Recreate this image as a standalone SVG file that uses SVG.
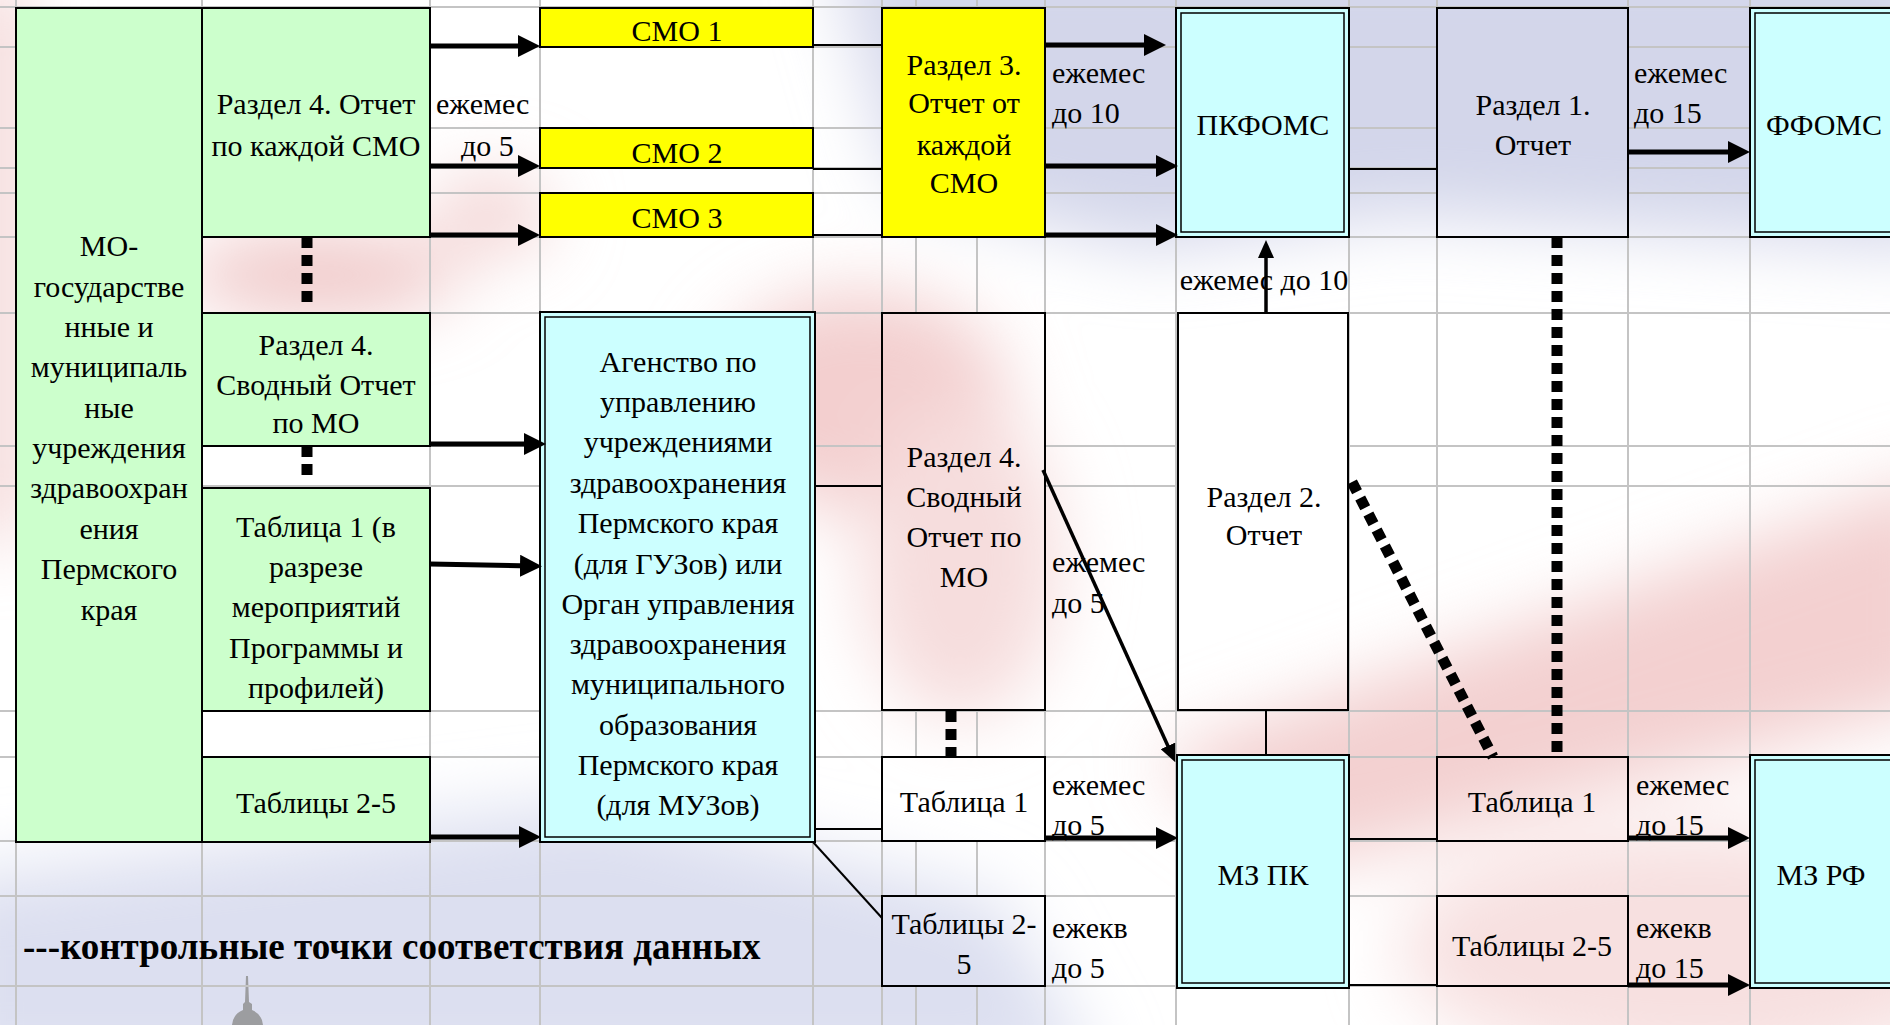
<svg xmlns="http://www.w3.org/2000/svg" width="1890" height="1025" viewBox="0 0 1890 1025">
<defs>
<style>
.t{font-family:"Liberation Serif","Times New Roman",serif;font-size:30px;fill:#000}
.c{text-anchor:middle}
.b{font-weight:bold;font-size:37px}
.box{stroke:#000;stroke-width:2}
.green{fill:#ccffcc}.yel{fill:#ffff00}.cyan{fill:#ccffff}.clear{fill:none}
.inner{fill:none;stroke:#000;stroke-width:1.5}
.arr{stroke:#000;stroke-width:5;fill:none;marker-end:url(#ah)}
.arr2{stroke:#000;stroke-width:3.5;fill:none;marker-end:url(#ah2)}
.thin{stroke:#000;stroke-width:2;fill:none}
.dot{stroke:#000;stroke-width:11;stroke-dasharray:11 7;fill:none}
.grid line{stroke:#c4c4c4;stroke-width:2}
</style>
<marker id="ah" markerUnits="userSpaceOnUse" viewBox="0 0 22 22" markerWidth="22" markerHeight="22" refX="12" refY="11" orient="auto"><path d="M0,0 L22,11 L0,22 z" fill="#000"/></marker>
<marker id="ah2" markerUnits="userSpaceOnUse" viewBox="0 0 18 16" markerWidth="18" markerHeight="16" refX="10" refY="8" orient="auto"><path d="M0,0 L18,8 L0,16 z" fill="#000"/></marker>
<filter id="blur" x="-50%" y="-50%" width="200%" height="200%"><feGaussianBlur stdDeviation="35"/></filter>
<linearGradient id="lav" x1="0" y1="0" x2="0" y2="1"><stop offset="0" stop-color="#d3d6ea"/><stop offset="0.6" stop-color="#dcdeef"/><stop offset="1" stop-color="#ffffff" stop-opacity="0"/></linearGradient>
<mask id="gm">
<rect x="0" y="0" width="1890" height="1025" fill="#fff"/>
<g fill="#000">
<rect x="16" y="8" width="186" height="834"/>
<rect x="202" y="8" width="228" height="229"/>
<rect x="202" y="313" width="228" height="133"/>
<rect x="202" y="488" width="228" height="223"/>
<rect x="202" y="757" width="228" height="85"/>
<rect x="540" y="8" width="273" height="39"/>
<rect x="540" y="128" width="273" height="40"/>
<rect x="540" y="193" width="273" height="44"/>
<rect x="882" y="8" width="163" height="229"/>
<rect x="540" y="312" width="275" height="530"/>
<rect x="882" y="313" width="163" height="397"/>
<rect x="882" y="757" width="163" height="84"/>
<rect x="882" y="896" width="163" height="90"/>
<rect x="1176" y="8" width="173" height="229"/>
<rect x="1178" y="313" width="170" height="397"/>
<rect x="1177" y="755" width="172" height="233"/>
<rect x="1437" y="8" width="191" height="229"/>
<rect x="1437" y="757" width="191" height="84"/>
<rect x="1437" y="896" width="191" height="90"/>
<rect x="1750" y="8" width="160" height="229"/>
<rect x="1750" y="755" width="160" height="233"/>
</g>
</mask>
</defs>

<rect x="0" y="0" width="1890" height="1025" fill="#fff"/>
<g id="background" filter="url(#blur)">
<rect x="-30" y="-20" width="46" height="560" fill="#efc6c6"/>
<polygon points="830,-60 1950,-60 1950,250 1400,215 1150,250 900,190" fill="#d3d6ea"/>
<ellipse cx="320" cy="275" rx="140" ry="38" fill="#eec3c3"/>
<ellipse cx="490" cy="215" rx="60" ry="40" fill="#f3d3d3"/>
<ellipse cx="860" cy="400" rx="150" ry="110" fill="#f3cfcf"/>
<ellipse cx="960" cy="560" rx="100" ry="160" fill="#f6dddd"/>
<polygon points="1150,760 1950,470 1950,700 1300,870" fill="#f3d0d0"/>
<ellipse cx="1700" cy="950" rx="300" ry="120" fill="#f7e0e0"/>
<polygon points="-60,880 600,800 1000,900 1100,1080 -60,1080" fill="#dcdff0"/>
</g>
<path d="M246,976 L248,976 L249,1002 L252,1004 L252,1010 Q262,1014 263,1025 L232,1025 Q233,1014 243,1010 L243,1004 L245,1002 z" fill="#8c8c8c" opacity="0.8"/>

<g id="grid" class="grid" mask="url(#gm)">
<line x1="0" y1="7" x2="1890" y2="7"/>
<line x1="0" y1="47" x2="1890" y2="47"/>
<line x1="0" y1="128" x2="1890" y2="128"/>
<line x1="0" y1="168" x2="1890" y2="168"/>
<line x1="0" y1="193" x2="1890" y2="193"/>
<line x1="0" y1="237" x2="1890" y2="237"/>
<line x1="0" y1="313" x2="1890" y2="313"/>
<line x1="0" y1="446" x2="1890" y2="446"/>
<line x1="0" y1="486" x2="1890" y2="486"/>
<line x1="0" y1="711" x2="1890" y2="711"/>
<line x1="0" y1="757" x2="1890" y2="757"/>
<line x1="0" y1="841" x2="1890" y2="841"/>
<line x1="0" y1="896" x2="1890" y2="896"/>
<line x1="0" y1="986" x2="1890" y2="986"/>
<line x1="16" y1="0" x2="16" y2="1025"/>
<line x1="202" y1="0" x2="202" y2="1025"/>
<line x1="430" y1="0" x2="430" y2="1025"/>
<line x1="540" y1="0" x2="540" y2="1025"/>
<line x1="813" y1="0" x2="813" y2="1025"/>
<line x1="882" y1="0" x2="882" y2="1025"/>
<line x1="916" y1="0" x2="916" y2="1025"/>
<line x1="977" y1="0" x2="977" y2="1025"/>
<line x1="1045" y1="0" x2="1045" y2="1025"/>
<line x1="1176" y1="0" x2="1176" y2="1025"/>
<line x1="1349" y1="0" x2="1349" y2="1025"/>
<line x1="1437" y1="0" x2="1437" y2="1025"/>
<line x1="1628" y1="0" x2="1628" y2="1025"/>
<line x1="1750" y1="0" x2="1750" y2="1025"/>
</g>

<g id="n-mo"><rect class="box green" x="16" y="8" width="186" height="834"/>
<text class="t c" x="109"><tspan x="109" y="256">МО-</tspan><tspan x="109" y="297">государстве</tspan><tspan x="109" y="337">нные и</tspan><tspan x="109" y="377">муниципаль</tspan><tspan x="109" y="418">ные</tspan><tspan x="109" y="458">учреждения</tspan><tspan x="109" y="498">здравоохран</tspan><tspan x="109" y="539">ения</tspan><tspan x="109" y="579">Пермского</tspan><tspan x="109" y="620">края</tspan></text></g>

<g id="n-r4smo"><rect class="box green" x="202" y="8" width="228" height="229"/>
<text class="t c"><tspan x="316" y="114">Раздел 4. Отчет</tspan><tspan x="316" y="156">по каждой СМО</tspan></text></g>

<g id="n-r4mo"><rect class="box green" x="202" y="313" width="228" height="133"/>
<text class="t c"><tspan x="316" y="355">Раздел 4.</tspan><tspan x="316" y="395">Сводный Отчет</tspan><tspan x="316" y="433">по МО</tspan></text></g>

<g id="n-t1"><rect class="box green" x="202" y="488" width="228" height="223"/>
<text class="t c"><tspan x="316" y="537">Таблица 1 (в</tspan><tspan x="316" y="577">разрезе</tspan><tspan x="316" y="617">мероприятий</tspan><tspan x="316" y="658">Программы и</tspan><tspan x="316" y="698">профилей)</tspan></text></g>

<g id="n-t25"><rect class="box green" x="202" y="757" width="228" height="85"/>
<text class="t c" x="316" y="813">Таблицы 2-5</text></g>

<g id="n-smo1"><rect class="box yel" x="540" y="8" width="273" height="39"/><text class="t c" x="677" y="41">СМО 1</text></g>
<g id="n-smo2"><rect class="box yel" x="540" y="128" width="273" height="40"/><text class="t c" x="677" y="163">СМО 2</text></g>
<g id="n-smo3"><rect class="box yel" x="540" y="193" width="273" height="44"/><text class="t c" x="677" y="228">СМО 3</text></g>

<g id="n-r3"><rect class="box yel" x="882" y="8" width="163" height="229"/>
<text class="t c"><tspan x="964" y="75">Раздел 3.</tspan><tspan x="964" y="113">Отчет от</tspan><tspan x="964" y="155">каждой</tspan><tspan x="964" y="193">СМО</tspan></text></g>

<g id="n-agency"><rect class="box cyan" x="540" y="312" width="275" height="530"/><rect class="inner" x="545" y="317" width="265" height="520"/>
<text class="t c"><tspan x="678" y="372">Агенство по</tspan><tspan x="678" y="412">управлению</tspan><tspan x="678" y="452">учреждениями</tspan><tspan x="678" y="493">здравоохранения</tspan><tspan x="678" y="533">Пермского края</tspan><tspan x="678" y="574">(для ГУЗов) или</tspan><tspan x="678" y="614">Орган управления</tspan><tspan x="678" y="654">здравоохранения</tspan><tspan x="678" y="694">муниципального</tspan><tspan x="678" y="735">образования</tspan><tspan x="678" y="775">Пермского края</tspan><tspan x="678" y="815">(для МУЗов)</tspan></text></g>

<g id="n-r4mo2"><rect class="box clear" x="882" y="313" width="163" height="397"/>
<text class="t c"><tspan x="964" y="467">Раздел 4.</tspan><tspan x="964" y="507">Сводный</tspan><tspan x="964" y="547">Отчет по</tspan><tspan x="964" y="587">МО</tspan></text></g>

<g id="n-t1b"><rect class="box clear" x="882" y="757" width="163" height="84"/><text class="t c" x="964" y="812">Таблица 1</text></g>
<g id="n-t25b"><rect class="box clear" x="882" y="896" width="163" height="90"/>
<text class="t c"><tspan x="964" y="934">Таблицы 2-</tspan><tspan x="964" y="974">5</tspan></text></g>

<g id="n-pkfoms"><rect class="box cyan" x="1176" y="8" width="173" height="229"/><rect class="inner" x="1181" y="13" width="163" height="219"/><text class="t c" x="1263" y="135">ПКФОМС</text></g>

<g id="n-r2"><rect class="box clear" x="1178" y="313" width="170" height="397"/>
<text class="t c"><tspan x="1264" y="507">Раздел 2.</tspan><tspan x="1264" y="545">Отчет</tspan></text></g>

<g id="n-mzpk"><rect class="box cyan" x="1177" y="755" width="172" height="233"/><rect class="inner" x="1182" y="760" width="162" height="223"/><text class="t c" x="1263" y="885">МЗ ПК</text></g>

<g id="n-r1"><rect class="box clear" x="1437" y="8" width="191" height="229"/>
<text class="t c"><tspan x="1533" y="115">Раздел 1.</tspan><tspan x="1533" y="155">Отчет</tspan></text></g>

<g id="n-t1c"><rect class="box clear" x="1437" y="757" width="191" height="84"/><text class="t c" x="1532" y="812">Таблица 1</text></g>
<g id="n-t25c"><rect class="box clear" x="1437" y="896" width="191" height="90"/><text class="t c" x="1532" y="956">Таблицы 2-5</text></g>

<g id="n-ffoms"><rect class="box cyan" x="1750" y="8" width="160" height="229"/><rect class="inner" x="1755" y="13" width="150" height="219"/><text class="t c" x="1824" y="135">ФФОМС</text></g>
<g id="n-mzrf"><rect class="box cyan" x="1750" y="755" width="160" height="233"/><rect class="inner" x="1755" y="760" width="150" height="223"/><text class="t c" x="1821" y="885">МЗ РФ</text></g>

<g id="labels">
<text class="t"><tspan x="436" y="114">ежемес</tspan><tspan x="461" y="156">до 5</tspan></text>
<text class="t"><tspan x="1052" y="83">ежемес</tspan><tspan x="1052" y="123">до 10</tspan></text>
<text class="t"><tspan x="1634" y="83">ежемес</tspan><tspan x="1634" y="123">до 15</tspan></text>
<text class="t c" x="1264" y="290">ежемес до 10</text>
<text class="t"><tspan x="1052" y="572">ежемес</tspan><tspan x="1052" y="613">до 5</tspan></text>
<text class="t"><tspan x="1052" y="795">ежемес</tspan><tspan x="1052" y="835">до 5</tspan></text>
<text class="t"><tspan x="1052" y="938">ежекв</tspan><tspan x="1052" y="978">до 5</tspan></text>
<text class="t"><tspan x="1636" y="795">ежемес</tspan><tspan x="1636" y="835">до 15</tspan></text>
<text class="t"><tspan x="1636" y="938">ежекв</tspan><tspan x="1636" y="978">до 15</tspan></text>
<text class="t b" x="23" y="959">---контрольные точки соответствия данных</text>
</g>

<g id="connectors">
<line class="arr" x1="430" y1="46" x2="530" y2="46"/>
<line class="arr" x1="430" y1="166" x2="530" y2="166"/>
<line class="arr" x1="430" y1="235" x2="530" y2="235"/>
<line class="thin" x1="813" y1="45" x2="882" y2="45"/>
<line class="thin" x1="813" y1="169" x2="882" y2="169"/>
<line class="thin" x1="813" y1="235" x2="882" y2="235"/>
<line class="arr" x1="1045" y1="45" x2="1156" y2="45"/>
<line class="arr" x1="1045" y1="166" x2="1168" y2="166"/>
<line class="arr" x1="1045" y1="235" x2="1168" y2="235"/>
<line class="thin" x1="1349" y1="169" x2="1437" y2="169"/>
<line class="arr" x1="1628" y1="152" x2="1740" y2="152"/>
<line class="arr" x1="430" y1="444" x2="536" y2="444"/>
<line class="arr" x1="430" y1="564" x2="532" y2="566"/>
<line class="arr" x1="430" y1="837" x2="531" y2="837"/>
<line class="thin" x1="815" y1="486" x2="882" y2="486"/>
<line class="thin" x1="815" y1="829" x2="882" y2="829"/>
<line class="thin" x1="813" y1="842" x2="882" y2="918"/>
<line class="arr2" x1="1266" y1="313" x2="1266" y2="248"/>
<line class="arr2" x1="1043" y1="470" x2="1172" y2="755"/>
<line class="thin" x1="1266" y1="710" x2="1266" y2="755"/>
<line class="arr" x1="1045" y1="838" x2="1168" y2="838"/>
<line class="thin" x1="1349" y1="839" x2="1437" y2="839"/>
<line class="thin" x1="1349" y1="985" x2="1437" y2="985"/>
<line class="arr" x1="1628" y1="838" x2="1740" y2="838"/>
<line class="arr" x1="1628" y1="985" x2="1740" y2="985"/>
<line class="dot" x1="307" y1="237" x2="307" y2="303"/>
<line class="dot" x1="307" y1="446" x2="307" y2="478"/>
<line class="dot" x1="951" y1="711" x2="951" y2="757"/>
<line class="dot" x1="1557" y1="237" x2="1557" y2="757"/>
<line class="dot" x1="1352" y1="482" x2="1493" y2="757"/>
</g>
</svg>
